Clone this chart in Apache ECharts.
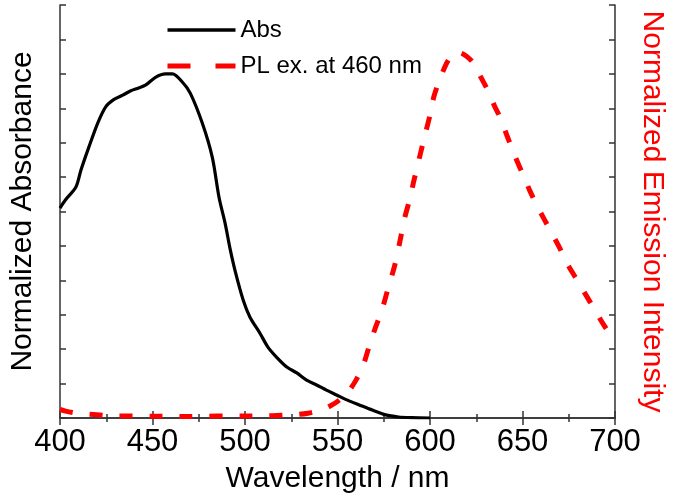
<!DOCTYPE html>
<html>
<head>
<meta charset="utf-8">
<script src="https://cdn.jsdelivr.net/npm/echarts@6/dist/echarts.min.js"></script>
<style>html,body{margin:0;padding:0;background:#fff}#c{width:675px;height:500px}</style>
</head>
<body>
<div id="c"></div>
<script>
const xTicks = [400, 450, 500, 550, 600, 650, 700];
const absWl = [400,403,408.6,411.3,415.6,420.4,424.7,429,433.9,438,442.5,446.2,451.6,457,460.8,466,470.4,476.9,482.3,486,489.2,492,495,499,502.7,508,512.4,517,522.6,528,533.3,538.7,544,549.5,555.4,561.8,568.8,576,583,590,600];
const absVal = [0.61,0.634,0.671,0.72,0.787,0.857,0.904,0.925,0.938,0.95,0.959,0.967,0.99,1.0,1.0,0.977,0.944,0.857,0.758,0.64,0.567,0.49,0.42,0.343,0.293,0.247,0.206,0.177,0.148,0.131,0.11,0.096,0.081,0.067,0.052,0.038,0.023,0.009,0.003,0.001,0.0];
const plWl = [400,403,408,413,418,425,432,440,450,460,470,480,490,500,510,520,528,534,541,546,551,556,560,564,567,570,574,577,581,584,586,589,591,594,597,600,602,605,609,612,614,617,620,623,626,629,632,635,638,642,646,650,654,658,662,666,670,674,679,684,689,694,699,700];
const plVal = [0.025,0.02,0.015,0.012,0.01,0.007,0.006,0.006,0.005,0.005,0.004,0.005,0.006,0.006,0.006,0.008,0.01,0.014,0.023,0.035,0.052,0.078,0.11,0.155,0.206,0.255,0.314,0.37,0.445,0.52,0.575,0.635,0.683,0.75,0.816,0.88,0.932,0.98,1.031,1.055,1.063,1.06,1.05,1.034,1.005,0.975,0.944,0.905,0.872,0.815,0.76,0.71,0.66,0.615,0.575,0.535,0.495,0.45,0.405,0.36,0.315,0.27,0.23,0.22];

const absData = absWl.map((w, i) => [w, absVal[i]]);
const plData = plWl.map((w, i) => [w, plVal[i]]);
const FONT = 'Liberation Sans, Arial, sans-serif';
const axisCol = '#333';

const chart = echarts.init(document.getElementById('c'), null, {renderer: 'canvas'});
const xBase = {
  type: 'value', min: xTicks[0], max: xTicks[xTicks.length - 1], interval: 50,
  axisLine: {show: true, lineStyle: {color: axisCol, width: 1.5}},
  axisTick: {show: true, inside: true, length: 7, lineStyle: {color: axisCol, width: 1.5}},
  minorTick: {show: true, splitNumber: 2, length: 4, lineStyle: {color: axisCol, width: 1.5}},
  splitLine: {show: false}
};
const yBase = {
  type: 'value', min: 0, max: 1.2, interval: 0.1,
  axisLine: {show: true, lineStyle: {color: axisCol, width: 1.5}},
  axisTick: {show: true, inside: true, length: 6, lineStyle: {color: axisCol, width: 1.5}},
  axisLabel: {show: false},
  splitLine: {show: false},
  nameLocation: 'middle',
  nameTextStyle: {fontFamily: FONT, fontSize: 30}
};
chart.setOption({
  animation: false,
  backgroundColor: '#fff',
  grid: {left: 59, right: 57, top: 5, bottom: 82},
  legend: {
    orient: 'vertical', left: 160, top: 13, itemWidth: 68, itemHeight: 14, itemGap: 12,
    itemStyle: {opacity: 0},
    textStyle: {fontFamily: FONT, fontSize: 24, color: '#000'},
    data: [
      {name: 'Abs', lineStyle: {width: 3.5}},
      {name: 'PL ex. at 460 nm', lineStyle: {width: 5, type: [23, 25]}}
    ]
  },
  xAxis: [
    Object.assign({}, xBase, {
      position: 'bottom',
      name: 'Wavelength / nm', nameLocation: 'middle', nameGap: 46,
      nameTextStyle: {fontFamily: FONT, fontSize: 30, color: '#000'},
      axisLabel: {show: true, margin: 9, fontFamily: FONT, fontSize: 31, color: '#000'}
    }),
    Object.assign({}, xBase, {position: 'top', axisLabel: {show: false}})
  ],
  yAxis: [
    Object.assign({}, yBase, {position: 'left', name: 'Normalized Absorbance', nameGap: 22,
      nameTextStyle: {fontFamily: FONT, fontSize: 30, color: '#000'}}),
    Object.assign({}, yBase, {position: 'right', name: 'Normalized Emission Intensity', nameGap: 22, nameRotate: -90,
      nameTextStyle: {fontFamily: FONT, fontSize: 30, color: '#ff0000'}})
  ],
  series: [
    {name: 'Abs', type: 'line', xAxisIndex: 0, yAxisIndex: 0, data: absData, showSymbol: false, symbol: 'none', smooth: 0.3,
      lineStyle: {color: '#000', width: 3.2}, itemStyle: {color: '#000'}},
    {name: 'PL ex. at 460 nm', type: 'line', xAxisIndex: 0, yAxisIndex: 1, data: plData, showSymbol: false, symbol: 'none', smooth: 0.3,
      lineStyle: {color: '#ff0000', width: 5, type: [13, 17]}, itemStyle: {color: '#ff0000'}}
  ]
});
</script>
</body>
</html>
